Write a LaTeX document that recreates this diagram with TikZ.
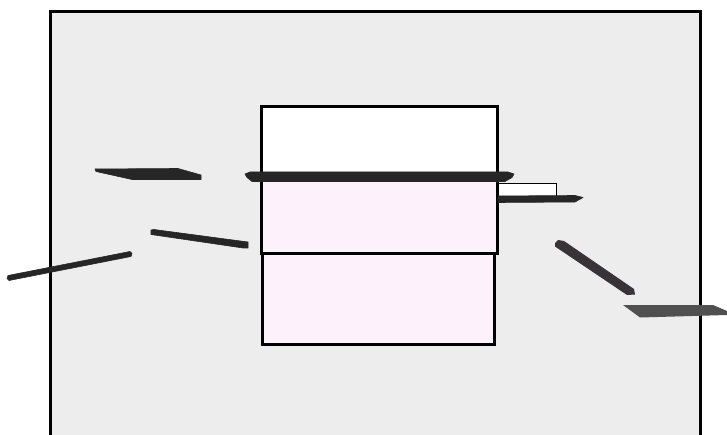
\documentclass[tikz,border=0pt]{standalone}
\usepackage{tikz}
\definecolor{panel}{HTML}{EDEDED}
\definecolor{pinkfill}{HTML}{FDF1FB}
\definecolor{darkbar}{HTML}{262626}
\definecolor{greybar}{HTML}{505050}
\definecolor{diagbar}{HTML}{383336}
\tikzset{
  frameline/.style={line width=3pt, draw=black},
  boxline/.style={line width=3pt, draw=black},
  barfill/.style={fill=darkbar, draw=darkbar, line width=0.6pt, line join=round},
}
\begin{document}
\begin{tikzpicture}[x=1pt,y=-1pt]
\useasboundingbox (0,0) rectangle (727,435);
\fill[white] (0,0) rectangle (727,435);
% outer panel (bottom edge cut off)
\fill[panel] (50,12) rectangle (700,435);
\draw[frameline] (50,436) -- (50,12) -- (700,12) -- (700,436);
% central box sections
\fill[white] (261,107) rectangle (497,176);
\fill[pinkfill] (261,176) rectangle (497,254);
\fill[pinkfill] (262,254) rectangle (494,344);
\draw[boxline] (261,176) -- (261,107) -- (497,107) -- (497,176);
\draw[boxline] (261,176) -- (261,254) -- (497,254) -- (497,176);
\draw[boxline] (262,254) -- (262,344) -- (494,344) -- (494,254);
% thick bar across the box
\fill[barfill] (245,174) -- (250,172) -- (508,172) -- (514,174) -- (512,177.5) -- (505,181.5) -- (252,181.5) -- (247,177.5) -- cycle;
% small white box and arrow-like bar on the right
\filldraw[fill=white, draw=black, line width=0.8pt] (498,183) rectangle (556,196.5);
\fill[barfill] (498,196) -- (575,195.5) -- (583,197.5) -- (575,202) -- (498,202.5) -- cycle;
% left parallelogram
\fill[barfill] (95,169) -- (178,168.5) -- (201,175) -- (201,179.5) -- (132,179.5) -- (96,171.5) -- cycle;
% left slanted bars
\fill[barfill] (151,230) -- (154,229.5) -- (248,242) -- (248,248) -- (243,248) -- (151,234.5) -- cycle;
\fill[barfill] (8,275.5) -- (130,251.5) -- (132,253.5) -- (131,256.5) -- (9,280.5) -- (7,278.5) -- cycle;
% right diagonal bar
\fill[diagbar] (555,243) -- (558,240) -- (564,241) -- (634,289) -- (635,294.5) -- (627,295) -- (555,246.5) -- cycle;
% right parallelogram
\fill[greybar] (623,305) -- (713,305) -- (727,311) -- (727,315) -- (640,317.5) -- cycle;
\end{tikzpicture}
\end{document}
